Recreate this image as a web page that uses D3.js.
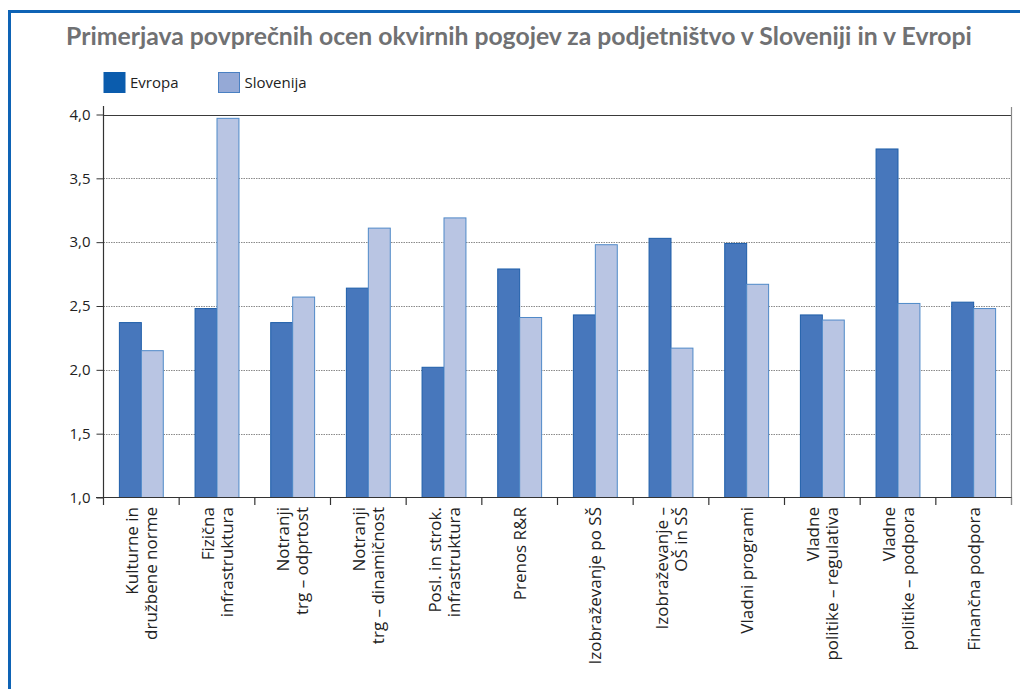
<!DOCTYPE html>
<html>
<head>
<meta charset="utf-8">
<script src="https://cdn.jsdelivr.net/npm/d3@7"></script>
<style>
  html, body { margin: 0; padding: 0; background: #fff; }
  svg { display: block; }
  text { font-family: "Open Sans", "Noto Sans", "DejaVu Sans", sans-serif; }
</style>
</head>
<body>
<svg id="chart" width="1020" height="689"></svg>
<script>
// Framework conditions for entrepreneurship: average scores
const title = "Primerjava povprečnih ocen okvirnih pogojev za podjetništvo v Sloveniji in v Evropi";
const categories = [
  ["Kulturne in", "družbene norme"],
  ["Fizična", "infrastruktura"],
  ["Notranji", "trg – odprtost"],
  ["Notranji", "trg – dinamičnost"],
  ["Posl. in strok.", "infrastruktura"],
  ["Prenos R&R"],
  ["Izobraževanje po SŠ"],
  ["Izobraževanje –", "OŠ in SŠ"],
  ["Vladni programi"],
  ["Vladne", "politike – regulativa"],
  ["Vladne", "politike – podpora"],
  ["Finančna podpora"]
];
const seriesNames = ["Evropa", "Slovenija"];
const evropa    = [2.37, 2.48, 2.37, 2.64, 2.02, 2.79, 2.43, 3.03, 2.99, 2.43, 3.73, 2.53];
const slovenija = [2.15, 3.97, 2.57, 3.11, 3.19, 2.41, 2.98, 2.17, 2.67, 2.39, 2.52, 2.48];
const yTicks = [1.0, 1.5, 2.0, 2.5, 3.0, 3.5, 4.0];

const barFill   = { Evropa: "#4777bc", Slovenija: "#b9c5e3" };
const barStroke = { Evropa: "#1e5ea9", Slovenija: "#4f89c8" };
const keyFill   = { Evropa: "#0b5cad", Slovenija: "#95a9d6" };
const keyStroke = { Evropa: "#0b5cad", Slovenija: "#4a80c2" };

const svg = d3.select("#chart");
const labels = categories.map(l => l.join(" "));
const rows = labels.map((c, i) => ({ cat: c, lines: categories[i], Evropa: evropa[i], Slovenija: slovenija[i] }));

// outer frame
svg.append("rect")
  .attr("x", 9.5).attr("y", 11.5)
  .attr("width", 1100).attr("height", 800)
  .attr("fill", "none").attr("stroke", "#0e63b5").attr("stroke-width", 3);

// title, fitted to the header width
const t = svg.append("text")
  .attr("x", 519).attr("y", 45)
  .attr("text-anchor", "middle")
  .attr("font-weight", "bold")
  .attr("font-size", 22)
  .attr("fill", "#707173")
  .style("font-family", "Lato, 'Open Sans', sans-serif")
  .text(title);
const tw = t.node().getComputedTextLength();
t.attr("font-size", 22 * 906 / tw);

// legend
const legend = svg.append("g");
const legendX = [104, 218.5];
seriesNames.forEach((s, i) => {
  legend.append("rect")
    .attr("x", legendX[i]).attr("y", 72.5)
    .attr("width", 21).attr("height", 20)
    .attr("fill", keyFill[s]).attr("stroke", keyStroke[s]).attr("stroke-width", 1);
  legend.append("text")
    .attr("x", legendX[i] + 26).attr("y", 88)
    .attr("font-size", 15).attr("fill", "#222")
    .text(s);
});

// scales
const x = d3.scaleBand().domain(labels).range([103.5, 1011.5]).padding(0);
const bw = x.bandwidth();
const xs = d3.scaleBand().domain(seriesNames).range([bw * 0.21, bw * 0.79]).padding(0);
const y = d3.scaleLinear().domain([1, 4]).range([497.5, 114.5]);

// gridlines
const grid = svg.append("g");
grid.selectAll("line").data(yTicks.filter(v => v > 1 && v < 4)).join("line")
  .attr("x1", 103.5).attr("x2", 1011.5)
  .attr("y1", d => Math.round(y(d)) + 0.5).attr("y2", d => Math.round(y(d)) + 0.5)
  .attr("stroke", "#8a8a8a").attr("stroke-width", 1).attr("stroke-dasharray", "1.5,1");
grid.append("line")
  .attr("x1", 103.5).attr("x2", 1011.5)
  .attr("y1", Math.round(y(4)) + 0.5).attr("y2", Math.round(y(4)) + 0.5)
  .attr("stroke", "#3a3a3a").attr("stroke-width", 1.2);

// right border of the plot
svg.append("line")
  .attr("x1", x.range()[1]).attr("x2", x.range()[1])
  .attr("y1", 107).attr("y2", 505)
  .attr("stroke", "#8a8a8a").attr("stroke-width", 1.2);

// bars
const groups = svg.append("g").selectAll("g").data(rows).join("g")
  .attr("transform", d => `translate(${x(d.cat)},0)`);
groups.selectAll("rect").data(d => seriesNames.map(s => ({ s, v: d[s] }))).join("rect")
  .attr("x", d => xs(d.s))
  .attr("width", xs.bandwidth())
  .attr("y", d => y(d.v))
  .attr("height", d => y(1) - y(d.v))
  .attr("fill", d => barFill[d.s])
  .attr("stroke", d => barStroke[d.s])
  .attr("stroke-width", 1);

// y axis
const yAxis = svg.append("g")
  .attr("transform", "translate(103.5,0)")
  .call(d3.axisLeft(y).tickValues(yTicks).tickSize(7).tickPadding(6)
    .tickFormat(d => d.toFixed(1).replace(".", ",")));
yAxis.select(".domain").remove();
yAxis.selectAll(".tick line").attr("stroke", "#333");
yAxis.selectAll(".tick text").attr("font-size", 15).attr("fill", "#222")
  .style("font-family", "'Open Sans', sans-serif");
svg.append("line")
  .attr("x1", 103.5).attr("x2", 103.5).attr("y1", 106).attr("y2", 498)
  .attr("stroke", "#333").attr("stroke-width", 1.2);

// x axis
svg.append("line")
  .attr("x1", 96).attr("x2", 1012).attr("y1", 497.5).attr("y2", 497.5)
  .attr("stroke", "#333").attr("stroke-width", 1.2);
const bounds = labels.map(c => x(c)).concat([x.range()[1]]);
svg.append("g").selectAll("line").data(bounds).join("line")
  .attr("x1", d => d).attr("x2", d => d)
  .attr("y1", 497.5).attr("y2", 505)
  .attr("stroke", d => d === x.range()[1] ? "#8a8a8a" : "#333")
  .attr("stroke-width", 1.2);

// rotated category labels
const lineGap = 19;
const xl = svg.append("g").selectAll("text").data(rows).join("text")
  .attr("transform", d => `translate(${x(d.cat) + bw / 2},507) rotate(-90)`)
  .attr("text-anchor", "end")
  .attr("font-size", 17)
  .attr("fill", "#222");
xl.selectAll("tspan").data(d => d.lines.map((l, i) => ({ l, i, n: d.lines.length }))).join("tspan")
  .attr("x", 0)
  .attr("y", d => (d.i - (d.n - 1) / 2) * lineGap + 6)
  .text(d => d.l);
</script>
</body>
</html>
